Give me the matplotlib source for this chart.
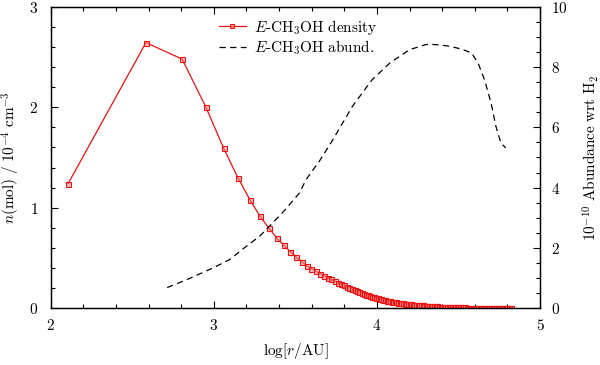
import numpy as np
import matplotlib
matplotlib.use("Agg")
import matplotlib.pyplot as plt
from matplotlib.ticker import MultipleLocator

plt.rcParams['mathtext.fontset'] = 'cm'
plt.rcParams['font.family'] = 'serif'
plt.rcParams['font.serif'] = ['DejaVu Serif']

# --- E-CH3OH density (left axis, 1e-4 cm^-3) vs log r ---
logr_dens = [2.107, 2.584, 2.806, 2.952, 3.061, 3.149, 3.221, 3.283, 3.338, 3.386,
             3.429, 3.469, 3.505, 3.539, 3.570, 3.599, 3.626, 3.651, 3.675, 3.698,
             3.720, 3.741, 3.760, 3.779, 3.797, 3.815, 3.831, 3.848, 3.863, 3.878,
             3.893, 3.907, 3.920, 3.933, 3.946, 3.958, 3.970, 3.982, 3.994, 4.005,
             4.016, 4.027, 4.04, 4.05, 4.06, 4.07, 4.08, 4.09, 4.10, 4.11,
             4.12, 4.13, 4.14, 4.15, 4.16, 4.17, 4.18, 4.19, 4.20, 4.21,
             4.22, 4.23, 4.24, 4.25, 4.26, 4.27, 4.28, 4.29, 4.30, 4.31,
             4.32, 4.33, 4.34, 4.35, 4.36, 4.37, 4.38, 4.39, 4.40, 4.41,
             4.42, 4.43, 4.44, 4.45, 4.46, 4.47, 4.48, 4.49, 4.50, 4.51,
             4.52, 4.53, 4.54, 4.55, 4.56, 4.57, 4.58, 4.59, 4.60, 4.61,
             4.62, 4.63, 4.64, 4.65, 4.66, 4.67, 4.68, 4.69, 4.70, 4.71,
             4.72, 4.73, 4.74, 4.75, 4.76, 4.77, 4.78, 4.79, 4.80, 4.81, 4.82]
density = [1.24, 2.645, 2.48, 2.00, 1.59, 1.295, 1.08, 0.915, 0.797, 0.697,
           0.627, 0.561, 0.508, 0.462, 0.420, 0.392, 0.368, 0.344, 0.322, 0.303,
           0.285, 0.268, 0.254, 0.240, 0.227, 0.214, 0.202, 0.190, 0.179, 0.169,
           0.159, 0.150, 0.142, 0.135, 0.127, 0.121, 0.114, 0.108, 0.102, 0.097,
           0.092, 0.087, 0.082, 0.078, 0.075, 0.071, 0.068, 0.065, 0.062, 0.059,
           0.056, 0.053, 0.051, 0.049, 0.046, 0.044, 0.042, 0.040, 0.038, 0.036,
           0.035, 0.033, 0.031, 0.030, 0.028, 0.027, 0.026, 0.024, 0.023, 0.022,
           0.021, 0.020, 0.019, 0.018, 0.017, 0.016, 0.015, 0.014, 0.013, 0.012,
           0.012, 0.011, 0.010, 0.010, 0.009, 0.009, 0.008, 0.008, 0.007, 0.007,
           0.006, 0.006, 0.006, 0.005, 0.005, 0.005, 0.004, 0.004, 0.004, 0.004,
           0.003, 0.003, 0.003, 0.003, 0.003, 0.002, 0.002, 0.002, 0.002, 0.002,
           0.002, 0.002, 0.001, 0.001, 0.001, 0.001, 0.001, 0.001, 0.001, 0.001, 0.001]

# --- E-CH3OH abundance (right axis, 1e-10 wrt H2) ---
logr_abund = [2.714, 2.85, 3.006, 3.10, 3.18, 3.28, 3.34, 3.43, 3.525, 3.565,
              3.65, 3.73, 3.85, 3.97, 4.08, 4.20, 4.30, 4.36, 4.44, 4.52,
              4.58, 4.62, 4.66, 4.70, 4.73, 4.76, 4.79]
abund = [0.68, 0.98, 1.36, 1.62, 1.97, 2.38, 2.71, 3.22, 3.82, 4.26,
         4.90, 5.59, 6.70, 7.58, 8.14, 8.58, 8.75, 8.75, 8.70, 8.60,
         8.47, 8.14, 7.58, 6.81, 6.03, 5.48, 5.32]

fig = plt.figure(figsize=(6.0, 3.65), dpi=100)
ax = fig.add_axes([0.0845, 0.156, 0.8155, 0.825])
ax2 = ax.twinx()

l1, = ax.plot(logr_dens, density, color='#ee1111', lw=0.9, marker='s', ms=3.6,
              mfc=(1, 0.55, 0.55, 0.5), mec='#ee1111', mew=0.8)
l2, = ax2.plot(logr_abund, abund, color='black', lw=0.9, ls=(0, (5, 3.5)))

ax.set_xlim(2, 5)
ax.set_ylim(0, 3)
ax2.set_ylim(0, 10)

fs = 11
ax.set_xticks([2, 3, 4, 5], ['$2$', '$3$', '$4$', '$5$'], fontsize=fs)
ax.set_yticks([0, 1, 2, 3], ['$0$', '$1$', '$2$', '$3$'], fontsize=fs)
ax2.set_yticks([0, 2, 4, 6, 8, 10], ['$0$', '$2$', '$4$', '$6$', '$8$', '$10$'], fontsize=fs)
ax.xaxis.set_minor_locator(MultipleLocator(0.2))
ax.yaxis.set_minor_locator(MultipleLocator(0.2))
ax2.yaxis.set_minor_locator(MultipleLocator(0.5))

ax.tick_params(which='both', direction='in', top=True, right=False, width=0.8)
ax.tick_params(which='major', length=5, pad=9)
ax.tick_params(axis='x', which='major', pad=7)
ax.tick_params(which='minor', length=3)
ax2.tick_params(which='both', direction='in', width=0.8)
ax2.tick_params(which='major', length=5, pad=8)
ax2.tick_params(which='minor', length=3)
for a in (ax, ax2):
    for s in a.spines.values():
        s.set_linewidth(0.9)

ax.set_xlabel(r'$\log[r/\mathrm{AU}]$', fontsize=fs, labelpad=6)
ax.set_ylabel(r'$n(\mathrm{mol})\ /\ 10^{-4}\ \mathrm{cm}^{-3}$', fontsize=fs, labelpad=5)
ax2.set_ylabel(r'$10^{-10}\ \mathrm{Abundance\ wrt\ H_2}$', fontsize=fs,
               rotation=90, labelpad=9)

ax.legend([l1, l2], [r'$E\mathrm{\text{-}CH_3OH\ density}$', r'$E\mathrm{\text{-}CH_3OH\ abund.}$'],
          loc='upper left', bbox_to_anchor=(0.315, 1.01), frameon=False, fontsize=fs,
          handlelength=1.8, handletextpad=0.55, labelspacing=0.1, markerscale=0.9)

fig.savefig('out.png', dpi=100)
